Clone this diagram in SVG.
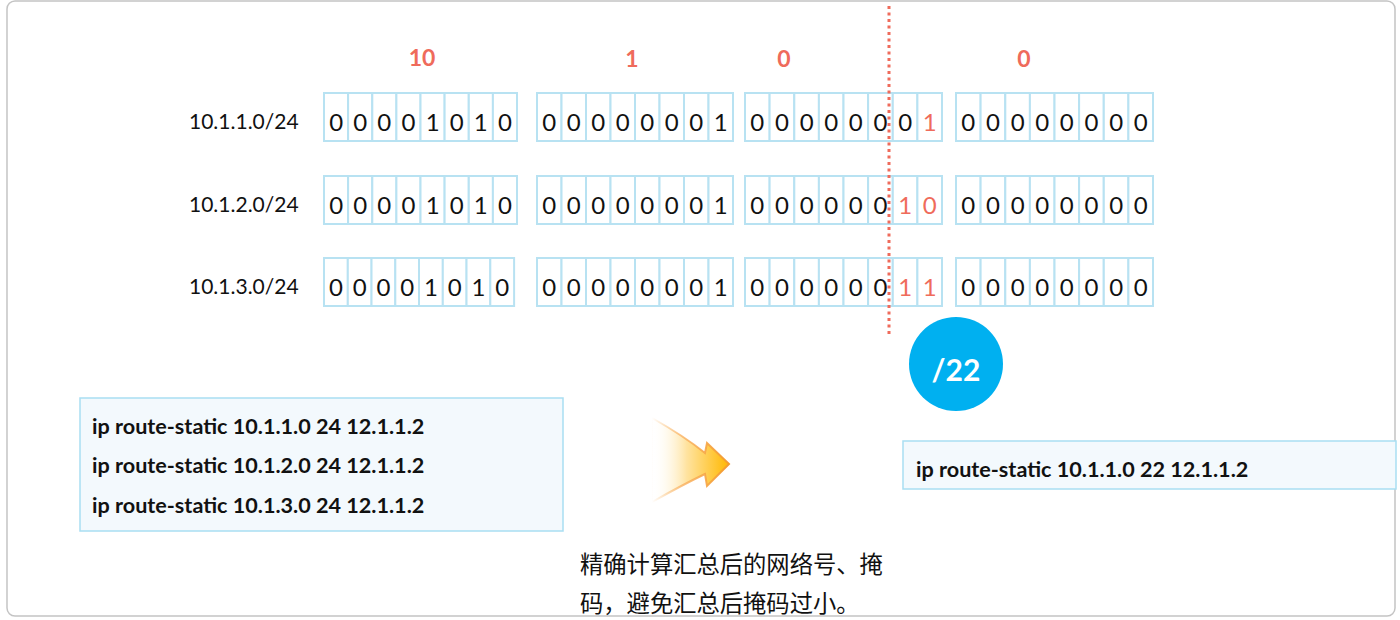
<svg xmlns="http://www.w3.org/2000/svg" width="1400" height="620" viewBox="0 0 1400 620">
<defs>
<style>
.frame{fill:#fff;stroke:#c4c4c4;stroke-width:1.5}
.cell{fill:#fff;stroke:#b8e2f2;stroke-width:2}
.bit{font-family:Lato,"Liberation Sans",sans-serif;font-size:24px;fill:#111;text-anchor:middle}
.red{fill:#ef6b5b}
.lbl{font-family:Lato,"Liberation Sans",sans-serif;font-size:21px;fill:#111}
.hdr{font-family:Lato,"Liberation Sans",sans-serif;font-size:23px;font-weight:bold;fill:#ef6b5b;text-anchor:middle}
.codebox{fill:#f3f9fd;stroke:#a9def2;stroke-width:1.5}
.code{font-family:Lato,"Liberation Sans",sans-serif;font-size:21.6px;font-weight:bold;fill:#111}
.cn{font-family:"Noto Sans CJK SC","Liberation Sans",sans-serif;font-size:23.3px;fill:#111}
</style>
<linearGradient id="arrFill" x1="652" y1="0" x2="729" y2="0" gradientUnits="userSpaceOnUse">
<stop offset="0" stop-color="#ffffff" stop-opacity="0"/>
<stop offset="0.45" stop-color="#ffe3a0"/>
<stop offset="1" stop-color="#ffb800"/>
</linearGradient>
<linearGradient id="arrStroke" x1="652" y1="0" x2="729" y2="0" gradientUnits="userSpaceOnUse">
<stop offset="0" stop-color="#f7a23a" stop-opacity="0"/>
<stop offset="0.4" stop-color="#f9b060" stop-opacity="0.8"/>
<stop offset="1" stop-color="#f39a2e"/>
</linearGradient>
</defs>
<rect class="frame" x="7" y="1" width="1388" height="615" rx="8"/>

<g id="headers">
<text class="hdr" x="422" y="66">10</text>
<text class="hdr" x="632" y="67">1</text>
<text class="hdr" x="784" y="67">0</text>
<text class="hdr" x="1024" y="67">0</text>
</g>

<g id="row1">
<text class="lbl" x="189" y="129">10.1.1.0/24</text>
<g transform="translate(0,93)">
<rect class="cell" x="324" y="0" width="24.1" height="48"/><rect class="cell" x="348.1" y="0" width="24.1" height="48"/><rect class="cell" x="372.3" y="0" width="24.1" height="48"/><rect class="cell" x="396.4" y="0" width="24.1" height="48"/><rect class="cell" x="420.5" y="0" width="24.1" height="48"/><rect class="cell" x="444.6" y="0" width="24.1" height="48"/><rect class="cell" x="468.8" y="0" width="24.1" height="48"/><rect class="cell" x="492.9" y="0" width="24.1" height="48"/>
<rect class="cell" x="537" y="0" width="24.5" height="48"/><rect class="cell" x="561.5" y="0" width="24.5" height="48"/><rect class="cell" x="586" y="0" width="24.5" height="48"/><rect class="cell" x="610.5" y="0" width="24.5" height="48"/><rect class="cell" x="635" y="0" width="24.5" height="48"/><rect class="cell" x="659.5" y="0" width="24.5" height="48"/><rect class="cell" x="684" y="0" width="24.5" height="48"/><rect class="cell" x="708.5" y="0" width="24.5" height="48"/>
<rect class="cell" x="745" y="0" width="24.6" height="48"/><rect class="cell" x="769.6" y="0" width="24.6" height="48"/><rect class="cell" x="794.3" y="0" width="24.6" height="48"/><rect class="cell" x="818.9" y="0" width="24.6" height="48"/><rect class="cell" x="843.5" y="0" width="24.6" height="48"/><rect class="cell" x="868.1" y="0" width="24.6" height="48"/><rect class="cell" x="892.8" y="0" width="24.6" height="48"/><rect class="cell" x="917.4" y="0" width="24.6" height="48"/>
<rect class="cell" x="956" y="0" width="24.6" height="48"/><rect class="cell" x="980.6" y="0" width="24.6" height="48"/><rect class="cell" x="1005.3" y="0" width="24.6" height="48"/><rect class="cell" x="1029.9" y="0" width="24.6" height="48"/><rect class="cell" x="1054.5" y="0" width="24.6" height="48"/><rect class="cell" x="1079.1" y="0" width="24.6" height="48"/><rect class="cell" x="1103.8" y="0" width="24.6" height="48"/><rect class="cell" x="1128.4" y="0" width="24.6" height="48"/>
<text class="bit" y="38"><tspan x="336.1">0</tspan><tspan x="360.2">0</tspan><tspan x="384.3">0</tspan><tspan x="408.4">0</tspan><tspan x="432.6">1</tspan><tspan x="456.7">0</tspan><tspan x="480.8">1</tspan><tspan x="504.9">0</tspan></text>
<text class="bit" y="38"><tspan x="549.3">0</tspan><tspan x="573.8">0</tspan><tspan x="598.3">0</tspan><tspan x="622.8">0</tspan><tspan x="647.3">0</tspan><tspan x="671.8">0</tspan><tspan x="696.3">0</tspan><tspan x="720.8">1</tspan></text>
<text class="bit" y="38"><tspan x="757.3">0</tspan><tspan x="781.9">0</tspan><tspan x="806.6">0</tspan><tspan x="831.2">0</tspan><tspan x="855.8">0</tspan><tspan x="880.4">0</tspan><tspan x="905.1">0</tspan><tspan class="red" x="929.7">1</tspan></text>
<text class="bit" y="38"><tspan x="968.3">0</tspan><tspan x="992.9">0</tspan><tspan x="1017.6">0</tspan><tspan x="1042.2">0</tspan><tspan x="1066.8">0</tspan><tspan x="1091.4">0</tspan><tspan x="1116.1">0</tspan><tspan x="1140.7">0</tspan></text>
</g>
</g>

<g id="row2">
<text class="lbl" x="189" y="212">10.1.2.0/24</text>
<g transform="translate(0,176)">
<rect class="cell" x="324" y="0" width="24.1" height="48"/><rect class="cell" x="348.1" y="0" width="24.1" height="48"/><rect class="cell" x="372.3" y="0" width="24.1" height="48"/><rect class="cell" x="396.4" y="0" width="24.1" height="48"/><rect class="cell" x="420.5" y="0" width="24.1" height="48"/><rect class="cell" x="444.6" y="0" width="24.1" height="48"/><rect class="cell" x="468.8" y="0" width="24.1" height="48"/><rect class="cell" x="492.9" y="0" width="24.1" height="48"/>
<rect class="cell" x="537" y="0" width="24.5" height="48"/><rect class="cell" x="561.5" y="0" width="24.5" height="48"/><rect class="cell" x="586" y="0" width="24.5" height="48"/><rect class="cell" x="610.5" y="0" width="24.5" height="48"/><rect class="cell" x="635" y="0" width="24.5" height="48"/><rect class="cell" x="659.5" y="0" width="24.5" height="48"/><rect class="cell" x="684" y="0" width="24.5" height="48"/><rect class="cell" x="708.5" y="0" width="24.5" height="48"/>
<rect class="cell" x="745" y="0" width="24.6" height="48"/><rect class="cell" x="769.6" y="0" width="24.6" height="48"/><rect class="cell" x="794.3" y="0" width="24.6" height="48"/><rect class="cell" x="818.9" y="0" width="24.6" height="48"/><rect class="cell" x="843.5" y="0" width="24.6" height="48"/><rect class="cell" x="868.1" y="0" width="24.6" height="48"/><rect class="cell" x="892.8" y="0" width="24.6" height="48"/><rect class="cell" x="917.4" y="0" width="24.6" height="48"/>
<rect class="cell" x="956" y="0" width="24.6" height="48"/><rect class="cell" x="980.6" y="0" width="24.6" height="48"/><rect class="cell" x="1005.3" y="0" width="24.6" height="48"/><rect class="cell" x="1029.9" y="0" width="24.6" height="48"/><rect class="cell" x="1054.5" y="0" width="24.6" height="48"/><rect class="cell" x="1079.1" y="0" width="24.6" height="48"/><rect class="cell" x="1103.8" y="0" width="24.6" height="48"/><rect class="cell" x="1128.4" y="0" width="24.6" height="48"/>
<text class="bit" y="38"><tspan x="336.1">0</tspan><tspan x="360.2">0</tspan><tspan x="384.3">0</tspan><tspan x="408.4">0</tspan><tspan x="432.6">1</tspan><tspan x="456.7">0</tspan><tspan x="480.8">1</tspan><tspan x="504.9">0</tspan></text>
<text class="bit" y="38"><tspan x="549.3">0</tspan><tspan x="573.8">0</tspan><tspan x="598.3">0</tspan><tspan x="622.8">0</tspan><tspan x="647.3">0</tspan><tspan x="671.8">0</tspan><tspan x="696.3">0</tspan><tspan x="720.8">1</tspan></text>
<text class="bit" y="38"><tspan x="757.3">0</tspan><tspan x="781.9">0</tspan><tspan x="806.6">0</tspan><tspan x="831.2">0</tspan><tspan x="855.8">0</tspan><tspan x="880.4">0</tspan><tspan class="red" x="905.1">1</tspan><tspan class="red" x="929.7">0</tspan></text>
<text class="bit" y="38"><tspan x="968.3">0</tspan><tspan x="992.9">0</tspan><tspan x="1017.6">0</tspan><tspan x="1042.2">0</tspan><tspan x="1066.8">0</tspan><tspan x="1091.4">0</tspan><tspan x="1116.1">0</tspan><tspan x="1140.7">0</tspan></text>
</g>
</g>

<g id="row3">
<text class="lbl" x="189" y="294">10.1.3.0/24</text>
<g transform="translate(0,258)">
<rect class="cell" x="324" y="0" width="23.8" height="48"/><rect class="cell" x="347.8" y="0" width="23.8" height="48"/><rect class="cell" x="371.5" y="0" width="23.8" height="48"/><rect class="cell" x="395.3" y="0" width="23.8" height="48"/><rect class="cell" x="419" y="0" width="23.8" height="48"/><rect class="cell" x="442.8" y="0" width="23.8" height="48"/><rect class="cell" x="466.5" y="0" width="23.8" height="48"/><rect class="cell" x="490.3" y="0" width="23.8" height="48"/>
<rect class="cell" x="537" y="0" width="24.5" height="48"/><rect class="cell" x="561.5" y="0" width="24.5" height="48"/><rect class="cell" x="586" y="0" width="24.5" height="48"/><rect class="cell" x="610.5" y="0" width="24.5" height="48"/><rect class="cell" x="635" y="0" width="24.5" height="48"/><rect class="cell" x="659.5" y="0" width="24.5" height="48"/><rect class="cell" x="684" y="0" width="24.5" height="48"/><rect class="cell" x="708.5" y="0" width="24.5" height="48"/>
<rect class="cell" x="745" y="0" width="24.6" height="48"/><rect class="cell" x="769.6" y="0" width="24.6" height="48"/><rect class="cell" x="794.3" y="0" width="24.6" height="48"/><rect class="cell" x="818.9" y="0" width="24.6" height="48"/><rect class="cell" x="843.5" y="0" width="24.6" height="48"/><rect class="cell" x="868.1" y="0" width="24.6" height="48"/><rect class="cell" x="892.8" y="0" width="24.6" height="48"/><rect class="cell" x="917.4" y="0" width="24.6" height="48"/>
<rect class="cell" x="956" y="0" width="24.6" height="48"/><rect class="cell" x="980.6" y="0" width="24.6" height="48"/><rect class="cell" x="1005.3" y="0" width="24.6" height="48"/><rect class="cell" x="1029.9" y="0" width="24.6" height="48"/><rect class="cell" x="1054.5" y="0" width="24.6" height="48"/><rect class="cell" x="1079.1" y="0" width="24.6" height="48"/><rect class="cell" x="1103.8" y="0" width="24.6" height="48"/><rect class="cell" x="1128.4" y="0" width="24.6" height="48"/>
<text class="bit" y="38"><tspan x="335.9">0</tspan><tspan x="359.6">0</tspan><tspan x="383.4">0</tspan><tspan x="407.1">0</tspan><tspan x="430.9">1</tspan><tspan x="454.6">0</tspan><tspan x="478.4">1</tspan><tspan x="502.1">0</tspan></text>
<text class="bit" y="38"><tspan x="549.3">0</tspan><tspan x="573.8">0</tspan><tspan x="598.3">0</tspan><tspan x="622.8">0</tspan><tspan x="647.3">0</tspan><tspan x="671.8">0</tspan><tspan x="696.3">0</tspan><tspan x="720.8">1</tspan></text>
<text class="bit" y="38"><tspan x="757.3">0</tspan><tspan x="781.9">0</tspan><tspan x="806.6">0</tspan><tspan x="831.2">0</tspan><tspan x="855.8">0</tspan><tspan x="880.4">0</tspan><tspan class="red" x="905.1">1</tspan><tspan class="red" x="929.7">1</tspan></text>
<text class="bit" y="38"><tspan x="968.3">0</tspan><tspan x="992.9">0</tspan><tspan x="1017.6">0</tspan><tspan x="1042.2">0</tspan><tspan x="1066.8">0</tspan><tspan x="1091.4">0</tspan><tspan x="1116.1">0</tspan><tspan x="1140.7">0</tspan></text>
</g>
</g>

<g id="divider">
<line x1="889" y1="6" x2="889" y2="337" stroke="#ef6b5b" stroke-width="3" stroke-dasharray="3 3.5"/>
</g>

<g id="mask-badge">
<circle cx="956" cy="364" r="47" fill="#00b0f0"/>
<text x="956" y="381" font-family="Lato,'Liberation Sans',sans-serif" font-size="30" font-weight="bold" fill="#fff" text-anchor="middle">/22</text>
</g>

<g id="routes-before">
<rect class="codebox" x="80" y="398" width="483" height="133"/>
<text class="code" x="92" y="434">ip route-static 10.1.1.0 24 12.1.1.2</text>
<text class="code" x="92" y="473">ip route-static 10.1.2.0 24 12.1.1.2</text>
<text class="code" x="92" y="513">ip route-static 10.1.3.0 24 12.1.1.2</text>
</g>

<g id="connectors">
<path d="M652,418 Q684,436 705,453 L707,443 L729,464 L707,486 L705,474 Q684,484 652,502 Z" fill="url(#arrFill)" stroke="url(#arrStroke)" stroke-width="2" stroke-linejoin="miter"/>
</g>

<g id="routes-after">
<rect class="codebox" x="903" y="441" width="493" height="48"/>
<text class="code" x="916" y="477">ip route-static 10.1.1.0 22 12.1.1.2</text>
</g>

<g id="note">
<text class="cn" x="580" y="573">精确计算汇总后的网络号、掩</text>
<text class="cn" x="580" y="612">码，避免汇总后掩码过小。</text>
</g>
</svg>
